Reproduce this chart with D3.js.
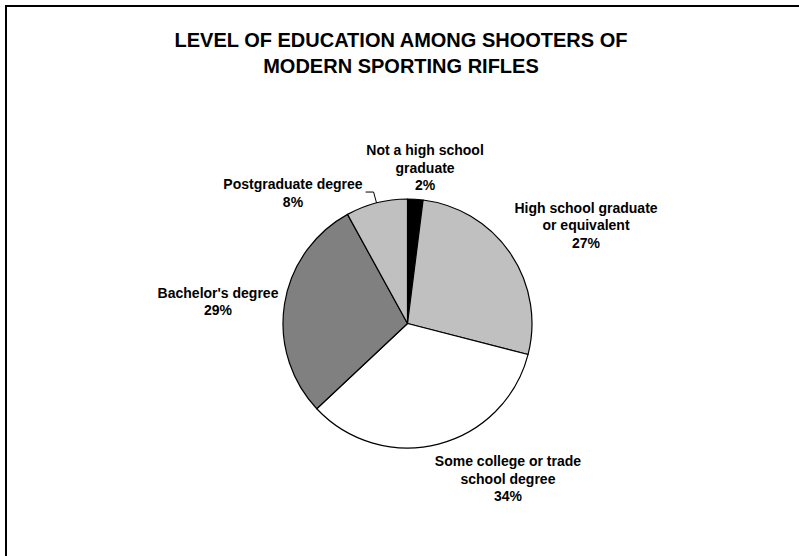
<!DOCTYPE html>
<html><head><meta charset="utf-8">
<script src="https://cdn.jsdelivr.net/npm/d3@7"></script>
<style>body{margin:0;background:#fff}svg{display:block}text{font-family:"Liberation Sans",Arial,sans-serif;font-weight:bold;fill:#000}</style>
</head><body><div id="chart"></div>
<script>
const title = ["LEVEL OF EDUCATION AMONG SHOOTERS OF", "MODERN SPORTING RIFLES"];
const categories = ["Not a high school graduate", "High school graduate or equivalent", "Some college or trade school degree", "Bachelor's degree", "Postgraduate degree"];
const labelLines = [["Not a high school", "graduate"], ["High school graduate", "or equivalent"], ["Some college or trade", "school degree"], ["Bachelor's degree"], ["Postgraduate degree"]];
const values = [2, 27, 34, 29, 8];
const colors = ["#000000", "#C0C0C0", "#FFFFFF", "#808080", "#C0C0C0"];

const W = 799, H = 556;
const cx = 407.5, cy = 323.5, R = 124.5;
// first-line baseline of each label, relative to pie centre (in units of radius) — layout only
const labelOffset = [[0.141, -1.353], [1.434, -0.888], [0.807, 1.145], [-1.522, -0.205], [-0.920, -1.080]];

const svg = d3.select("#chart").append("svg").attr("width", W).attr("height", H);
svg.append("rect").attr("x", 6).attr("y", 6).attr("width", 800).attr("height", 600)
  .attr("fill", "#fff").attr("stroke", "#000").attr("stroke-width", 2);

svg.append("g").selectAll("text").data(title).join("text")
  .attr("x", 401).attr("y", (d, i) => 47 + i * 25.5)
  .attr("text-anchor", "middle").style("font-size", "20px").text(d => d);

const pie = d3.pie().sort(null).value(d => d)(values);
const arc = d3.arc().innerRadius(0).outerRadius(R);
const g = svg.append("g").attr("transform", `translate(${cx},${cy})`);
g.selectAll("path").data(pie).join("path")
  .attr("d", arc).attr("fill", (d, i) => colors[i])
  .attr("stroke", "#000").attr("stroke-width", 1.2).attr("stroke-linejoin", "round");

const lh = 17.5, fs = 14;
const firstLines = [];
pie.forEach((d, i) => {
  const lines = labelLines[i].concat([values[i] + "%"]);
  const lx = labelOffset[i][0] * R, ly = labelOffset[i][1] * R;
  const t = g.append("text").attr("text-anchor", "middle").style("font-size", fs + "px");
  lines.forEach((s, k) => {
    const sp = t.append("tspan").attr("x", lx).attr("y", ly + k * lh).text(s);
    if (k === 0) firstLines.push(sp);
  });
});

// leader line for postgraduate degree
const pg = pie[4];
const mid = (pg.startAngle + pg.endAngle) / 2;
const ex = Math.sin(mid) * R, ey = -Math.cos(mid) * R;
const w4 = firstLines[4].node().getComputedTextLength();
const lbx = labelOffset[4][0] * R + w4 / 2 + 3, lby = labelOffset[4][1] * R + 3;
g.append("polyline").attr("points", `${lbx},${lby} ${lbx + 8},${lby} ${ex},${ey}`)
  .attr("fill", "none").attr("stroke", "#000").attr("stroke-width", 1);
</script></body></html>
